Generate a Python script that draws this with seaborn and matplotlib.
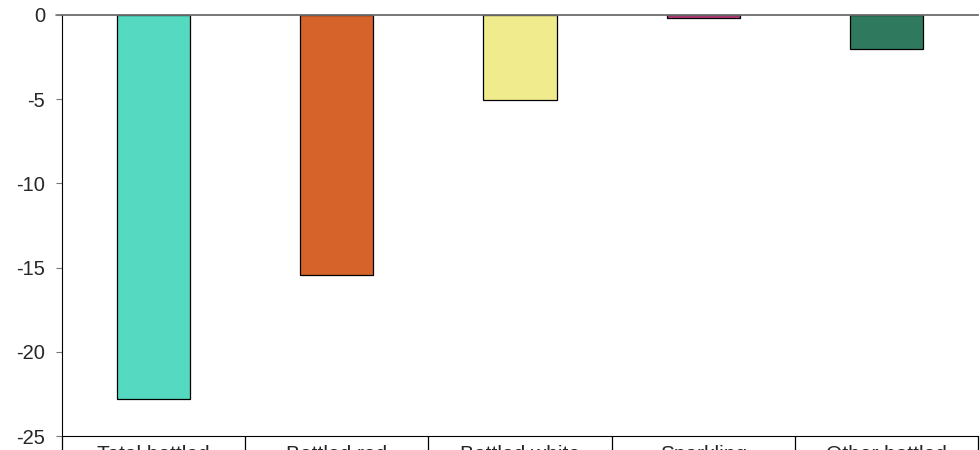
import pandas as pd
import seaborn as sns
import matplotlib.pyplot as plt
import numpy as np

categories = ["Total bottled", "Bottled red", "Bottled white", "Sparkling", "Other bottled"]
values = [-22.8, -15.45, -5.05, -0.2, -2.02]
bar_colors = ["#55D9C0", "#D6632A", "#F0EC8E", "#C0407F", "#2F7A5E"]

df = pd.DataFrame({"category": categories, "change": values})

sns.set_style("white")
plt.rcParams["font.family"] = ["Liberation Sans", "DejaVu Sans"]

fig = plt.figure(figsize=(9.8, 4.5), dpi=100)
ax = fig.add_axes([62 / 980, 1 - 436 / 450, 916 / 980, 421 / 450])

sns.barplot(data=df, x="category", y="change", hue="category", palette=bar_colors,
            legend=False, width=0.4, saturation=1, edgecolor="black", linewidth=0.9, ax=ax)

ax.set_ylim(-25, 0)
ax.set_xlim(-0.5, len(categories) - 0.5)
ax.set_yticks([0, -5, -10, -15, -20, -25])
ax.set_yticklabels(["0", "-5", "-10", "-15", "-20", "-25"], fontsize=14.5)
ax.set_xlabel("")
ax.set_ylabel("")

ax.spines["right"].set_visible(False)
ax.spines["top"].set_color("#777777")
ax.spines["top"].set_linewidth(1.2)
ax.spines["left"].set_color("black")
ax.spines["bottom"].set_color("black")
ax.axhline(0, xmin=-6 / 916, xmax=1, color="#777777", lw=1.2, clip_on=False, zorder=0)

ax.tick_params(axis="y", left=True, length=4.3, color="#777777", pad=8)
ax.tick_params(axis="x", which="major", length=0, labelsize=15, pad=6.5)
ax.set_xticks(np.arange(-0.5, len(categories)), minor=True)
ax.tick_params(axis="x", which="minor", bottom=True, length=20, color="black", width=0.9)

plt.savefig("out.png", dpi=100)
